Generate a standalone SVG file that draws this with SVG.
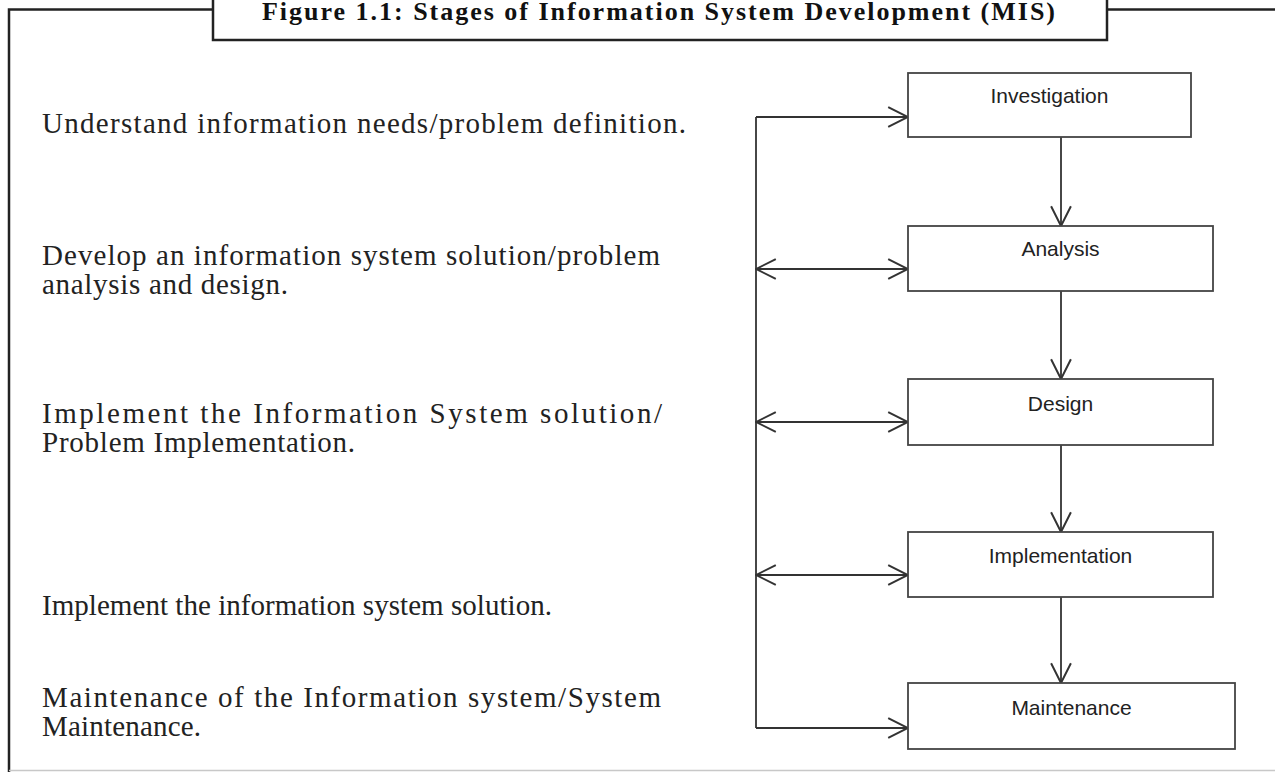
<svg xmlns="http://www.w3.org/2000/svg" width="1275" height="772" viewBox="0 0 1275 772">
<style>
.frame{fill:none;stroke:#222;stroke-width:2.5}
.box{fill:#fff;stroke:#444;stroke-width:1.8}
.lbl{font-family:"Liberation Sans",Arial,sans-serif;font-size:21px;fill:#222;text-anchor:middle}
.desc{font-family:"Liberation Serif","Times New Roman",serif;font-size:29px;fill:#222}
.title{font-family:"Liberation Serif","Times New Roman",serif;font-size:26px;font-weight:bold;fill:#111}
.conn{fill:none;stroke:#333;stroke-width:1.8}
</style>
<defs>
<marker id="ah" markerUnits="userSpaceOnUse" markerWidth="22" markerHeight="22" viewBox="0 0 20 20" refX="19" refY="10" orient="auto-start-reverse">
<path d="M1,1 L19,10 L1,19" fill="none" stroke="#333" stroke-width="1.8"/>
</marker>
</defs>
<rect width="1275" height="772" fill="#fff"/>
<g id="frame">
<path class="frame" d="M213,9.5 H9 V772"/>
<path class="frame" d="M1107,9.5 H1275"/>
<rect class="frame" x="213" y="-10" width="894" height="50" fill="#fff"/>
<line x1="9" y1="770.5" x2="1275" y2="770.5" stroke="#c8c8c8" stroke-width="1.5"/>
<text class="title" x="262" y="19.5" textLength="793" lengthAdjust="spacing">Figure 1.1: Stages of Information System Development (MIS)</text>
</g>
<g id="descriptions">
<text class="desc" x="42" y="133" textLength="644" lengthAdjust="spacing">Understand information needs/problem definition.</text>
<text class="desc" x="42" y="265" textLength="618" lengthAdjust="spacing">Develop an information system solution/problem</text>
<text class="desc" x="42" y="294" textLength="246" lengthAdjust="spacing">analysis and design.</text>
<text class="desc" x="42" y="423" textLength="620" lengthAdjust="spacing">Implement the Information System solution/</text>
<text class="desc" x="42" y="452" textLength="313" lengthAdjust="spacing">Problem Implementation.</text>
<text class="desc" x="42" y="615" textLength="510" lengthAdjust="spacing">Implement the information system solution.</text>
<text class="desc" x="42" y="707" textLength="619" lengthAdjust="spacing">Maintenance of the Information system/System</text>
<text class="desc" x="42" y="736" textLength="159" lengthAdjust="spacing">Maintenance.</text>
</g>
<g id="connectors">
<line class="conn" x1="756" y1="117" x2="756" y2="728"/>
<line class="conn" x1="756" y1="117" x2="908" y2="117" marker-end="url(#ah)"/>
<line class="conn" x1="756" y1="269" x2="908" y2="269" marker-start="url(#ah)" marker-end="url(#ah)"/>
<line class="conn" x1="756" y1="422" x2="908" y2="422" marker-start="url(#ah)" marker-end="url(#ah)"/>
<line class="conn" x1="756" y1="575" x2="908" y2="575" marker-start="url(#ah)" marker-end="url(#ah)"/>
<line class="conn" x1="756" y1="728" x2="908" y2="728" marker-end="url(#ah)"/>
<line class="conn" x1="1061" y1="137" x2="1061" y2="226" marker-end="url(#ah)"/>
<line class="conn" x1="1061" y1="291" x2="1061" y2="379" marker-end="url(#ah)"/>
<line class="conn" x1="1061" y1="445" x2="1061" y2="532" marker-end="url(#ah)"/>
<line class="conn" x1="1061" y1="597" x2="1061" y2="683" marker-end="url(#ah)"/>
</g>
<g id="investigation">
<rect class="box" x="908" y="73" width="283" height="64"/>
<text class="lbl" x="1049.5" y="103">Investigation</text>
</g>
<g id="analysis">
<rect class="box" x="908" y="226" width="305" height="65"/>
<text class="lbl" x="1060.5" y="256">Analysis</text>
</g>
<g id="design">
<rect class="box" x="908" y="379" width="305" height="66"/>
<text class="lbl" x="1060.5" y="411">Design</text>
</g>
<g id="implementation">
<rect class="box" x="908" y="532" width="305" height="65"/>
<text class="lbl" x="1060.5" y="563">Implementation</text>
</g>
<g id="maintenance">
<rect class="box" x="908" y="683" width="327" height="66"/>
<text class="lbl" x="1071.5" y="715">Maintenance</text>
</g>
</svg>
